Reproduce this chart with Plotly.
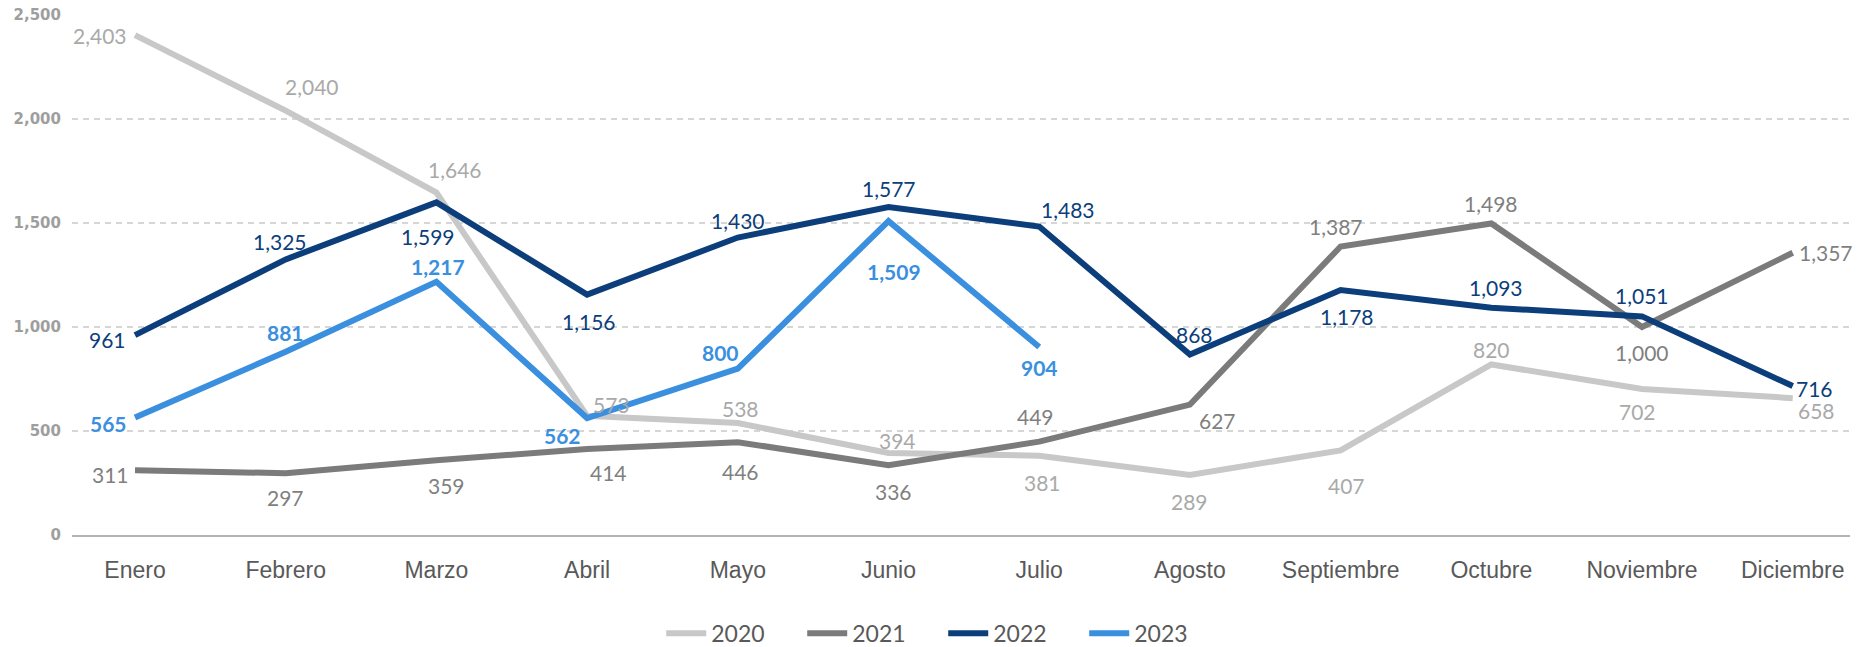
import plotly.graph_objects as go

months = ["Enero", "Febrero", "Marzo", "Abril", "Mayo", "Junio", "Julio",
          "Agosto", "Septiembre", "Octubre", "Noviembre", "Diciembre"]
y2020 = [2403, 2040, 1646, 573, 538, 394, 381, 289, 407, 820, 702, 658]
y2021 = [311, 297, 359, 414, 446, 336, 449, 627, 1387, 1498, 1000, 1357]
y2022 = [961, 1325, 1599, 1156, 1430, 1577, 1483, 868, 1178, 1093, 1051, 716]
y2023 = [565, 881, 1217, 562, 800, 1509, 904]
years = ["2020", "2021", "2022", "2023"]
y_ticks = [0, 500, 1000, 1500, 2000, 2500]

# styling / label offsets (pixels: dx right, dy down) kept separate from data
line_colors = ["#c8c8c8", "#7b7b7b", "#0b3e7a", "#3a8fdf"]
label_colors = ["#a9a9a9", "#7f7f7f", "#0b3e7a", "#3a8fdf"]
label_bold = [False, False, False, True]
offsets = [
    [(-35, 0), (26, -24), (19, -23), (24, -11), (3, -15), (9, -13), (3, 27),
     (0, 27), (6, 35), (0, -15), (-5, 23), (24, 12)],
    [(-24, 4), (0, 24), (10, 25), (21, 24), (3, 29), (5, 26), (-4, -25),
     (28, 16), (-5, -20), (0, -20), (0, 25), (33, 0)],
    [(-27, 4), (-6, -18), (-8, 34), (2, 27), (0, -17), (0, -18), (29, -17),
     (5, -20), (6, 27), (5, -20), (0, -21), (22, 2)],
    [(-26, 6), (0, -19), (2, -15), (-25, 17), (-17, -16), (5, 50), (0, 21)],
]

series = [y2020, y2021, y2022, y2023]

fig = go.Figure()
for name, ys, col in zip(years, series, line_colors):
    fig.add_trace(go.Scatter(
        x=months[:len(ys)], y=ys, mode="lines", name=name,
        line=dict(color=col, width=6),
        hoverinfo="skip",
    ))

annotations = []
for ys, col, bold, offs in zip(series, label_colors, label_bold, offsets):
    for m, v, (dx, dy) in zip(months, ys, offs):
        annotations.append(dict(
            x=m, y=v, xref="x", yref="y",
            text=f"<b>{v:,}</b>" if bold else f"{v:,}",
            showarrow=False, xanchor="center", yanchor="middle",
            xshift=dx, yshift=-dy,
            font=dict(family="Lato, Open Sans, sans-serif", size=21, color=col),
        ))

fig.update_layout(
    width=1863, height=647,
    margin=dict(l=72, r=13, t=15, b=112, autoexpand=False),
    paper_bgcolor="white", plot_bgcolor="white",
    annotations=annotations,
    showlegend=True,
    legend=dict(
        orientation="h", x=0.49, xanchor="center", y=-0.189, yanchor="middle",
        font=dict(family="Lato, sans-serif", size=23, color="#595959"),
        itemwidth=40, traceorder="normal",
        entrywidth=86, entrywidthmode="pixels",
    ),
    font=dict(family="Lato, sans-serif"),
)

fig.update_xaxes(
    type="category", categoryorder="array", categoryarray=months,
    range=[-0.418, 11.38],
    showgrid=False, zeroline=False,
    showline=True, linecolor="#b3b3b3", linewidth=2,
    ticks="", ticklabelstandoff=13,
    tickfont=dict(family="Liberation Sans, Arial, sans-serif", size=23, color="#595959"),
)
fig.update_yaxes(
    range=[0, 2500], tickvals=y_ticks, tickformat=",",
    showgrid=True, gridcolor="#d6d6d6", gridwidth=1.5, griddash="6px,5px",
    zeroline=False, showline=False, ticks="",
    ticklabelstandoff=10,
    tickfont=dict(family="DejaVu Sans, sans-serif", size=15, color="#9e9e9e", weight=700),
)

fig.write_html("out.html", config={"displayModeBar": False},
               post_script="document.body.style.margin='0';document.body.style.overflow='hidden';")
